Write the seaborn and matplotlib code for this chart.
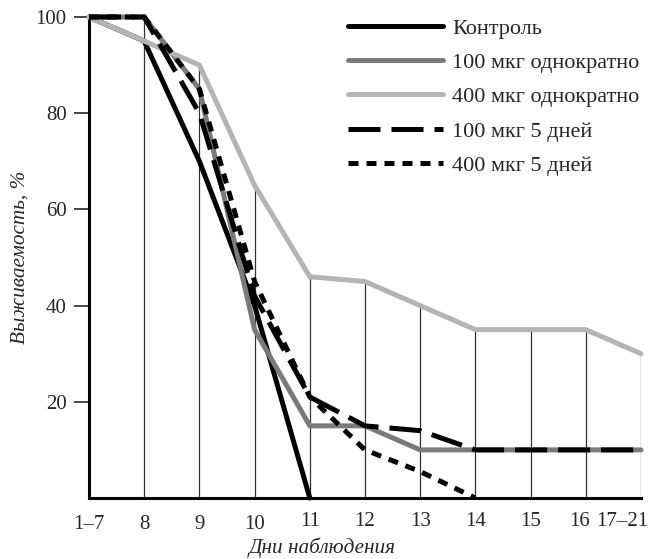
import numpy as np
import pandas as pd
import seaborn as sns
import matplotlib.pyplot as plt
from matplotlib.transforms import ScaledTranslation

# дни наблюдения
days = ["1\u20137", "8", "9", "10", "11", "12", "13", "14", "15", "16", "17\u201321"]

# выживаемость, %
control = [100, 95, 70, 40, 0]
once_100 = [100, 100, 85, 35, 15, 15, 10, 10, 10, 10, 10]
once_400 = [100, 95, 90, 65, 46, 45, 40, 35, 35, 35, 30]
days5_100 = [100, 100, 80, 42, 21, 15, 14, 10, 10, 10, 10]
days5_400 = [100, 100, 85, 45, 21, 10, 5.5, 0]

names = ["Контроль", "100 мкг однократно", "400 мкг однократно",
         "100 мкг 5 дней", "400 мкг 5 дней"]
series = [control, once_100, once_400, days5_100, days5_400]

sns.set_style("white")
plt.rcParams['font.family'] = ['Liberation Serif', 'DejaVu Serif']

fig = plt.figure(figsize=(6.57, 5.59), dpi=100)
ax = fig.add_axes([89 / 657, 1 - 498 / 559, (641 - 89) / 657, (498 - 17) / 559])

# тонкие вертикальные линии до верхней кривой
x_all = np.arange(len(days))
tops = pd.DataFrame({n: pd.Series(s) for n, s in zip(names, series)}).max(axis=1)
ax.vlines(x_all[1:], 0, tops.values[1:], color="#333333", lw=0.9, zorder=1)

styles = [
    dict(color="black", linestyle="-"),
    dict(color="#7a7a7a", linestyle="-"),
    dict(color="#b2b4b6", linestyle="-"),
    dict(color="black", linestyle=(0, (6.4, 2.2))),
    dict(color="black", linestyle=(0, (2.0, 1.6))),
]
for n, s, st in zip(names, series, styles):
    sns.lineplot(x=x_all[:len(s)], y=s, ax=ax, label=n, lw=3.6,
                 clip_on=False, zorder=3, **st)

ax.set_xlim(0, len(days) - 1)
ax.set_ylim(0, 100)
ax.set_xticks(x_all)
ax.set_xticklabels(days)
ax.set_yticks([20, 40, 60, 80, 100])
ax.tick_params(axis="x", length=0, pad=10, labelsize=15)
ax.tick_params(axis="y", length=11, width=1.2, pad=5, labelsize=15,
               direction="out", left=True)

# подписи последних дней немного сдвинуты влево, первые - чуть ниже
xt = ax.get_xticklabels()
shifts = {9: (-6, 0), 10: (-19, 0)}
for i, lab in enumerate(xt):
    dx, dy = shifts.get(i, (0, 0))
    if i <= 3:
        dy = -3
    lab.set_transform(lab.get_transform() +
                      ScaledTranslation(dx / 100, dy / 100, fig.dpi_scale_trans))

for side in ["top", "right"]:
    ax.spines[side].set_visible(False)
for side in ["left", "bottom"]:
    ax.spines[side].set_color("black")
    ax.spines[side].set_linewidth(2.2)

ax.set_xlabel("Дни наблюдения", fontsize=15.3, style="italic")
ax.xaxis.set_label_coords((322 - 89) / 552, -(538 - 498) / 481)
ax.set_ylabel("Выживаемость, %", fontsize=15.3, style="italic")
ax.yaxis.set_label_coords(-(89 - 30) / 552, 0.5)

ax.legend(loc="upper left", bbox_to_anchor=(348 / 657, 1 - 18 / 559),
          bbox_transform=fig.transFigure, frameon=False, fontsize=16,
          handlelength=4.28, handletextpad=0.4, labelspacing=0.62,
          borderpad=0, borderaxespad=0)

fig.savefig("out.png", dpi=100)
